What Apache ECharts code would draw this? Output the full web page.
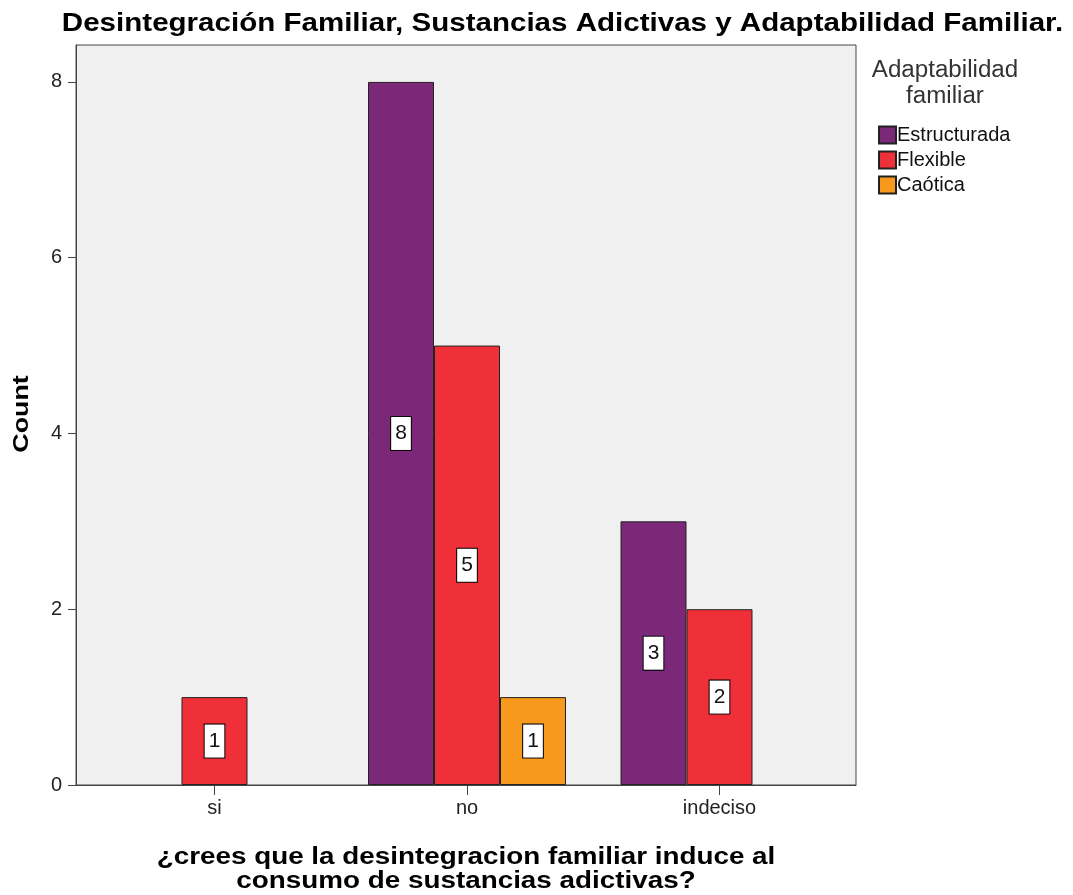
<!DOCTYPE html>
<html>
<head>
<meta charset="utf-8">
<script src="https://cdn.jsdelivr.net/npm/echarts@6/dist/echarts.min.js"></script>
<style>
html,body{margin:0;padding:0;background:#fff;}
#chart{width:1073px;height:895px;}
</style>
</head>
<body>
<div id="chart"></div>
<script>
const categories = ['si', 'no', 'indeciso'];
const seriesNames = ['Estructurada', 'Flexible', 'Caótica'];
const estructurada = [0, 8, 3];
const flexible = [1, 5, 2];
const caotica = [0, 1, 0];
const yTicks = [0, 2, 4, 6, 8];
const colors = ['#7b2879', '#ef3039', '#f7991d'];
const chartTitle = 'Desintegración Familiar, Sustancias Adictivas y Adaptabilidad Familiar.';
const xTitle = ['¿crees que la desintegracion familiar induce al', 'consumo de sustancias adictivas?'];
const yTitle = 'Count';
const legendTitle = ['Adaptabilidad', 'familiar'];

const FONT = '"Liberation Sans", Arial, sans-serif';
const chart = echarts.init(document.getElementById('chart'), null, {renderer: 'canvas'});

const plotLeft = 76, plotTop = 45, plotW = 780, plotH = 740;
const catW = 252.5;
const dataLeft = 214.5 - catW / 2;

function mk(name, vals, color) {
  return {
    name: name,
    type: 'bar',
    xAxisIndex: 1,
    yAxisIndex: 1,
    barWidth: 66,
    barGap: '0%',
    data: vals.map(v => v === 0 ? '-' : v),
    itemStyle: {color: color, borderColor: '#222', borderWidth: 1},
    label: {
      show: true,
      position: 'inside',
      color: '#111',
      fontFamily: FONT,
      fontSize: 21,
      lineHeight: 21,
      backgroundColor: '#fff',
      borderColor: '#000',
      borderWidth: 1,
      padding: [6, 4, 6, 4]
    },
    emphasis: {disabled: true}
  };
}

function txt(text, x, y, size, weight, sx, rot, color) {
  return {
    type: 'text', x: x, y: y, scaleX: sx, rotation: rot || 0, silent: true,
    style: {text: text, fontFamily: FONT, fontSize: size, fontWeight: weight,
            fill: color || '#000', align: 'center', verticalAlign: 'middle'}
  };
}

chart.setOption({
  animation: false,
  backgroundColor: '#fff',
  graphic: [
    txt(chartTitle, 562.5, 24, 26, 'bold', 1.136),
    txt(xTitle[0], 466, 858, 23, 'bold', 1.21),
    txt(xTitle[1], 466, 882, 23, 'bold', 1.21),
    txt(yTitle, 22, 414, 22, 'bold', 1.22, Math.PI / 2),
    txt(legendTitle[0], 945, 71, 23, 'normal', 1.05, 0, '#333'),
    txt(legendTitle[1], 945, 97, 23, 'normal', 1.05, 0, '#333')
  ],
  legend: {
    data: seriesNames,
    orient: 'vertical',
    left: 873, top: 120,
    itemWidth: 17, itemHeight: 17, itemGap: 5,
    icon: 'rect',
    selectedMode: false,
    textStyle: {fontFamily: FONT, fontSize: 20, color: '#111', padding: [0, 0, 0, -4]}
  },
  grid: [
    {left: plotLeft, top: plotTop, width: plotW, height: plotH, show: true,
     backgroundColor: '#f0f0f0', borderColor: '#444', borderWidth: 1,
     containLabel: false, outerBoundsMode: 'none'},
    {left: dataLeft, top: plotTop, width: catW * 3, height: plotH, show: false,
     containLabel: false, outerBoundsMode: 'none'}
  ],
  xAxis: [
    {gridIndex: 0, type: 'category', data: categories,
     axisLine: {show: true, lineStyle: {color: '#444'}}, axisTick: {show: false}, axisLabel: {show: false}},
    {gridIndex: 1, type: 'category', data: categories,
     axisLine: {show: false},
     axisTick: {show: true, alignWithLabel: true, inside: false, length: 10, lineStyle: {color: '#444'}},
     axisLabel: {interval: 0, margin: 13, fontFamily: FONT, fontSize: 20, color: '#222'}}
  ],
  yAxis: [
    {gridIndex: 0, type: 'value', min: 0, max: 8.42, interval: 2,
     axisLine: {show: true, lineStyle: {color: '#444'}},
     axisTick: {show: true, length: 8, lineStyle: {color: '#444'}},
     splitLine: {show: false},
     axisLabel: {showMaxLabel: false, margin: 14, fontFamily: FONT, fontSize: 20, color: '#222',
       formatter: v => yTicks.indexOf(v) >= 0 ? String(v) : ''}},
    {gridIndex: 1, type: 'value', min: 0, max: 8.42, show: false, splitLine: {show: false}}
  ],
  series: [
    mk(seriesNames[0], estructurada, colors[0]),
    mk(seriesNames[1], flexible, colors[1]),
    mk(seriesNames[2], caotica, colors[2])
  ]
});
</script>
</body>
</html>
